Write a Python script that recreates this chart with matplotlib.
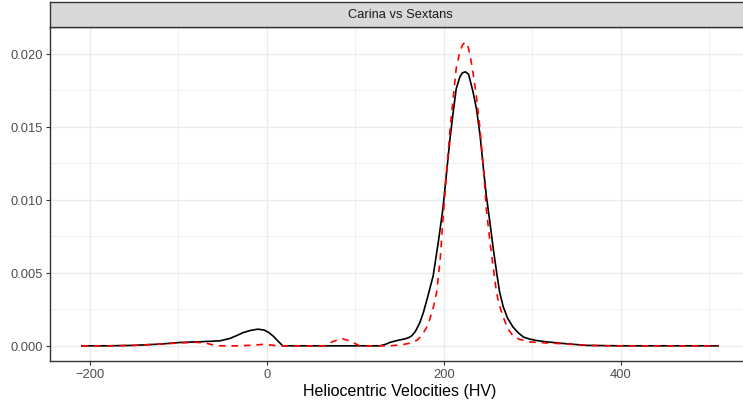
import numpy as np
import matplotlib
matplotlib.use("Agg")
import matplotlib.pyplot as plt
from matplotlib.ticker import MultipleLocator

plt.rcParams['font.family'] = ['Liberation Sans', 'DejaVu Sans']

# density curves
carina_x = [-209, -180, -150, -120, -98, -75, -53, -42, -34, -27, -18, -10, -3, 2, 7, 13, 18,
            60, 100, 128, 134, 139, 145, 150, 155, 160, 164, 168, 173, 177, 182, 188, 194,
            199, 203, 207, 211, 214, 218, 221, 224.5, 228, 233, 237, 241, 245, 248, 252,
            256, 260, 263, 267, 272, 278, 284, 290, 297, 305, 315, 335, 361, 400, 450, 510]
carina_y = [0, 0, 0.00003, 0.00012, 0.00023, 0.00028, 0.00034, 0.0005, 0.0007, 0.0009,
            0.00106, 0.00114, 0.00108, 0.00092, 0.00068, 0.0003, 0,
            0, 0, 0, 0.0001, 0.00023, 0.00033, 0.0004, 0.00046, 0.00055, 0.0007, 0.001,
            0.0016, 0.0023, 0.0034, 0.0048, 0.0072, 0.0094, 0.0118, 0.0142, 0.0162, 0.0176,
            0.0184, 0.0187, 0.01877, 0.0186, 0.0174, 0.0162, 0.0144, 0.012, 0.0103, 0.0085,
            0.0066, 0.0049, 0.0037, 0.0027, 0.0019, 0.0013, 0.0009, 0.0006, 0.00046,
            0.00036, 0.00028, 0.00016, 0.00003, 0, 0, 0]

sextans_x = [-209, -180, -150, -120, -98, -80, -70, -60, -53, -30, -15, -4, 5, 12, 20,
             65, 75, 85, 95, 105, 140, 155, 160, 165, 170, 175, 180, 184, 188, 192, 196,
             199, 203, 207, 211, 214, 218, 221, 224, 227, 230, 233, 237, 241, 245, 248, 252,
             256, 259, 262, 267, 272, 278, 285, 297, 315, 335, 360, 380, 450, 510]
sextans_y = [0, 0, 0.00003, 0.00012, 0.0002, 0.00024, 0.0002, 0.00005, 0, 0, 0.00005,
             0.0001, 0.00005, 0, 0,
             0, 0.0003, 0.0005, 0.0003, 0, 0, 0.0001, 0.00016, 0.00023, 0.0004, 0.0007,
             0.0012, 0.0018, 0.0026, 0.0037, 0.006, 0.0086, 0.0118, 0.0148, 0.0172, 0.019,
             0.0201, 0.0206, 0.0208, 0.0206, 0.0198, 0.0187, 0.017, 0.0148, 0.012, 0.0094,
             0.0072, 0.0053, 0.0039, 0.0029, 0.002, 0.0012, 0.0007, 0.00045, 0.00027,
             0.0002, 0.00014, 0.00004, 0, 0, 0]

strip_label = "Carina vs Sextans"
x_label = "Heliocentric Velocities (HV)"

W, H = 743, 402
fig = plt.figure(figsize=(W / 100, H / 100), dpi=100)

# panel extends a bit past the right edge, like the reference
left, right, top, bottom = 50, 750, 28, 362
ax = fig.add_axes([left / W, (H - bottom) / H, (right - left) / W, (bottom - top) / H])

xmin, xmax = min(carina_x + sextans_x), max(carina_x + sextans_x)
ymax = max(carina_y + sextans_y)
xpad = 0.05 * (xmax - xmin)
ypad = 0.05 * ymax
ax.set_xlim(xmin - xpad, xmax + xpad)
ax.set_ylim(-ypad, ymax + ypad)

ax.xaxis.set_major_locator(MultipleLocator(200))
ax.xaxis.set_minor_locator(MultipleLocator(100))
ax.yaxis.set_major_locator(MultipleLocator(0.005))
ax.yaxis.set_minor_locator(MultipleLocator(0.0025))
ax.grid(True, which='major', color='#ebebeb', lw=1.0)
ax.grid(True, which='minor', color='#ebebeb', lw=0.5)
ax.set_axisbelow(True)

ax.plot(carina_x, carina_y, color='black', lw=1.2, zorder=3)
ax.plot(sextans_x, sextans_y, color='red', lw=1.2, ls=(0, (4, 3.5)), zorder=4)

ax.yaxis.set_major_formatter(plt.FuncFormatter(lambda v, p: f"{v:.3f}"))
ax.xaxis.set_major_formatter(plt.FuncFormatter(lambda v, p: f"{v:.0f}".replace('-', '\u2212')))
ax.tick_params(which='major', length=3, width=0.8, color='#333333', labelcolor='#4d4d4d',
               labelsize=9.3, pad=2)
ax.tick_params(which='minor', length=0)
for s in ax.spines.values():
    s.set_color('#333333')
    s.set_linewidth(1.0)

ax.set_xlabel(x_label, fontsize=11.5, color='black', labelpad=2)

# facet strip
sax = fig.add_axes([left / W, (H - top) / H, (right - left) / W, (top - 3) / H])
sax.set_facecolor('#d9d9d9')
sax.set_xticks([])
sax.set_yticks([])
for s in sax.spines.values():
    s.set_color('#333333')
    s.set_linewidth(1.0)
sax.text(0.5, 0.5, strip_label, transform=sax.transAxes, ha='center', va='center',
         fontsize=9.3, color='#1a1a1a')

fig.savefig("out.png", dpi=100)
